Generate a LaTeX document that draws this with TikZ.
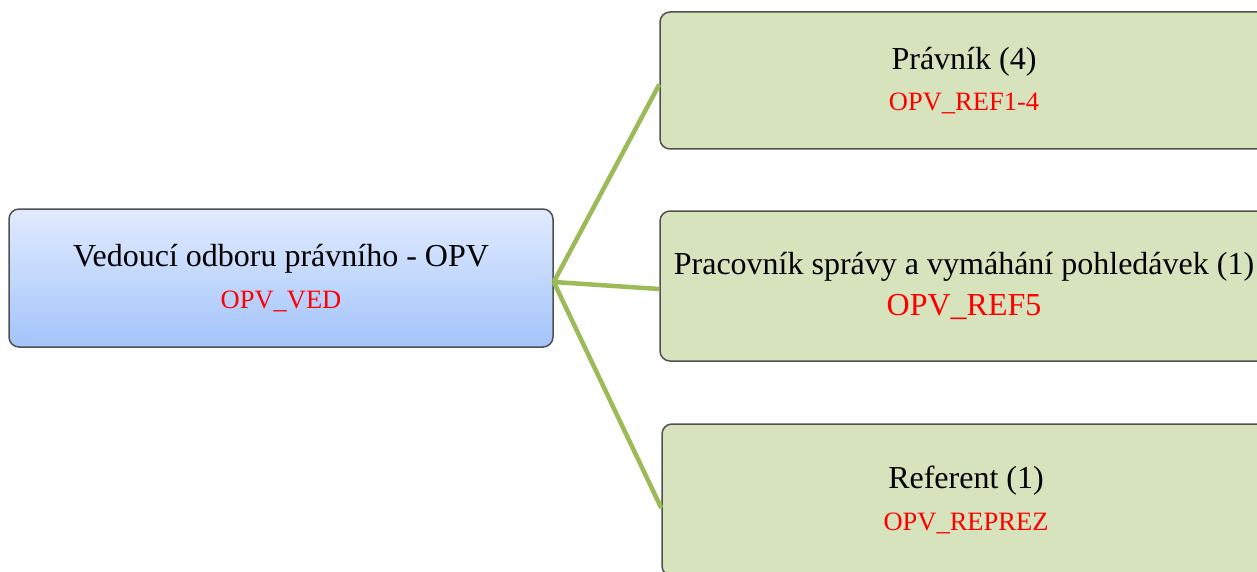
\documentclass[tikz,border=0pt]{standalone}
\usepackage{fontspec}
\setmainfont{Liberation Serif}
\definecolor{linkgreen}{RGB}{155,187,89}
\definecolor{boxgreen}{RGB}{214,227,188}
\definecolor{boxtop}{RGB}{225,235,255}
\definecolor{boxbottom}{RGB}{163,196,250}
\definecolor{boxedge}{RGB}{80,80,80}
\definecolor{codered}{RGB}{255,0,0}
\tikzset{
	posbox/.style={draw=boxedge, line width=1.5pt, rounded corners=10pt, align=center, inner sep=0pt},
	headbox/.style={posbox, top color=boxtop, bottom color=boxbottom, minimum width=544pt, minimum height=138pt},
	staffbox/.style={posbox, fill=boxgreen, minimum width=608pt},
	link/.style={linkgreen, line width=4.5pt}
}
\newcommand{\bigtxt}{\fontsize{32}{42}\selectfont}
\newcommand{\codetxt}[1]{{\fontsize{26.5}{32}\selectfont\color{codered}#1}}
\begin{document}
\begin{tikzpicture}[x=1pt,y=-1pt]
	\useasboundingbox (0,0) rectangle (1257,572);
	\clip (0,0) rectangle (1257,572);
	\node [headbox] (ved) at (281,278) {\bigtxt Vedoucí odboru právního - OPV\\[16pt]\codetxt{OPV\_VED}};
	\node [staffbox, minimum height=137pt] (ref) at (964,80.5) {\bigtxt Právník (4)\\[16pt]\codetxt{OPV\_REF1-4}};
	\node [staffbox, minimum height=150pt] (sprava) at (964,286) {\bigtxt Pracovník správy a vymáhání pohledávek (1)\\[12pt]\bigtxt\color{codered}OPV\_REF5};
	\node [staffbox, minimum height=152pt] (reprez) at (966,500) {\bigtxt Referent (1)\\[16pt]\codetxt{OPV\_REPREZ}};
	\draw [link] ([yshift=-4pt]ved.east) -- ([yshift=-4pt]ref.west);
	\draw [link] ([yshift=-4pt]ved.east) -- ([yshift=-3pt]sprava.west);
	\draw [link] ([yshift=-4pt]ved.east) -- ([yshift=-8pt]reprez.west);
\end{tikzpicture}
\end{document}
